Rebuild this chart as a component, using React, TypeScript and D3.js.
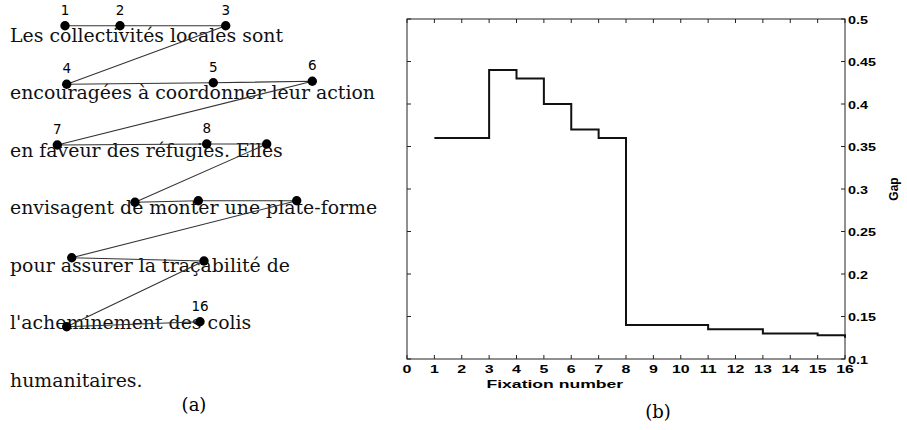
import React, { useRef, useEffect } from 'react';
import * as d3 from 'd3';

// panel (a): text lines and fixations (positions in image pixels)
const textLines = [
  'Les collectivités locales sont',
  'encouragées à coordonner leur action',
  'en faveur des réfugiés. Elles',
  'envisagent de monter une plate-forme',
  'pour assurer la traçabilité de',
  "l'acheminement des colis",
  'humanitaires.',
];
const fixX = [65, 120, 225.7, 66.7, 213.3, 312.3, 57.3, 206.7, 266.7, 135, 198.3, 296.7, 71.7, 204, 66.7, 200];
const fixY = [25.7, 25.7, 25.7, 84.3, 82.7, 81.3, 145, 144, 144, 202.3, 200.7, 200.7, 257.7, 261, 326.7, 321.7];
const labeledFix = [1, 2, 3, 4, 5, 6, 7, 8, 16];

// panel (b): gap per fixation number
const fixationNumber = [1, 2, 3, 4, 5, 6, 7, 8, 9, 10, 11, 12, 13, 14, 15, 16];
const gapValues = [0.36, 0.36, 0.44, 0.43, 0.40, 0.37, 0.36, 0.14, 0.14, 0.14, 0.135, 0.135, 0.13, 0.13, 0.128, 0.125];
const xTicks = d3.range(0, 17);
const yTicks = [0.1, 0.15, 0.2, 0.25, 0.3, 0.35, 0.4, 0.45, 0.5];

const W = 907;
const H = 430;

export default function App() {
  const ref = useRef<SVGSVGElement>(null);

  useEffect(() => {
    if (!ref.current) return;
    const svg = d3.select(ref.current);
    svg.selectAll('*').remove();

    /* ---------- (a) ---------- */
    const a = svg.append('g');
    const lineY = d3.scaleLinear().domain([0, textLines.length - 1]).range([41.5, 387]);
    a.selectAll('text.line').data(textLines).join('text')
      .attr('class', 'line')
      .attr('x', 10)
      .attr('y', (_, i) => lineY(i))
      .style('font-family', '"DejaVu Serif", serif')
      .style('font-size', '18.9px')
      .style('fill', '#111')
      .text(d => d);

    const px = d3.scaleLinear().domain([0, 1]).range([0, 1]);
    const pts = fixX.map((x, i) => [px(x), px(fixY[i])] as [number, number]);
    a.append('path').datum(pts)
      .attr('d', d3.line())
      .attr('fill', 'none')
      .attr('stroke', '#333')
      .attr('stroke-width', 1.1);
    a.selectAll('circle').data(pts).join('circle')
      .attr('cx', d => d[0]).attr('cy', d => d[1]).attr('r', 4.7)
      .attr('fill', '#000');
    a.selectAll('text.lab').data(labeledFix).join('text')
      .attr('class', 'lab')
      .attr('x', d => pts[d - 1][0])
      .attr('y', d => pts[d - 1][1] - 11)
      .attr('text-anchor', 'middle')
      .style('font-family', '"DejaVu Sans", sans-serif')
      .style('font-size', '13.5px')
      .style('fill', '#000')
      .text(d => d);
    a.append('text')
      .attr('x', 194).attr('y', 411)
      .attr('text-anchor', 'middle')
      .style('font-family', '"DejaVu Serif", serif')
      .style('font-size', '18px')
      .text('(a)');

    /* ---------- (b) ---------- */
    const left = 407, right = 845, top = 19, bottom = 359;
    const x = d3.scaleLinear().domain([0, 16]).range([left, right]);
    const y = d3.scaleLinear().domain([0.1, 0.5]).range([bottom, top]);
    const b = svg.append('g');
    const tl = 4;

    b.append('rect')
      .attr('x', left).attr('y', top)
      .attr('width', right - left).attr('height', bottom - top)
      .attr('fill', 'none').attr('stroke', '#222').attr('stroke-width', 1);

    const tickStyle = (s: d3.Selection<any, any, any, any>) =>
      s.attr('stroke', '#222').attr('stroke-width', 1);
    b.selectAll('line.xb').data(xTicks).join('line').attr('class', 'xb')
      .attr('x1', d => x(d)).attr('x2', d => x(d)).attr('y1', bottom).attr('y2', bottom - tl).call(tickStyle);
    b.selectAll('line.xt').data(xTicks).join('line').attr('class', 'xt')
      .attr('x1', d => x(d)).attr('x2', d => x(d)).attr('y1', top).attr('y2', top + tl).call(tickStyle);
    b.selectAll('line.yl').data(yTicks).join('line').attr('class', 'yl')
      .attr('x1', left).attr('x2', left + tl).attr('y1', d => y(d)).attr('y2', d => y(d)).call(tickStyle);
    b.selectAll('line.yr').data(yTicks).join('line').attr('class', 'yr')
      .attr('x1', right).attr('x2', right - tl).attr('y1', d => y(d)).attr('y2', d => y(d)).call(tickStyle);

    const sans = '"Liberation Sans", Arial, sans-serif';
    b.selectAll('text.xl').data(xTicks).join('text').attr('class', 'xl')
      .attr('transform', d => `translate(${x(d)},${bottom + 14}) scale(1.45,1)`)
      .attr('text-anchor', 'middle')
      .style('font-family', sans).style('font-weight', 'bold').style('font-size', '11px')
      .text(d => d);
    b.selectAll('text.yl').data(yTicks).join('text').attr('class', 'yl')
      .attr('transform', d => `translate(${right + 3},${y(d) + 4.5}) scale(1.25,1)`)
      .style('font-family', sans).style('font-weight', 'bold').style('font-size', '11.5px')
      .text(d => String(d));
    b.append('text')
      .attr('transform', `translate(${x(5.4)},${bottom + 29}) scale(1.6,1)`)
      .attr('text-anchor', 'middle')
      .style('font-family', sans).style('font-weight', 'bold').style('font-size', '11px')
      .text('Fixation number');
    b.append('text')
      .attr('transform', `translate(898,${y(0.3)}) rotate(-90)`)
      .attr('text-anchor', 'middle')
      .style('font-family', sans).style('font-weight', 'bold').style('font-size', '12px')
      .text('Gap');

    const step = d3.line<number>()
      .x((_, i) => x(fixationNumber[i]))
      .y(d => y(d))
      .curve(d3.curveStepAfter);
    b.append('path').datum(gapValues)
      .attr('d', step)
      .attr('fill', 'none')
      .attr('stroke', '#111')
      .attr('stroke-width', 2);

    b.append('text')
      .attr('x', 658).attr('y', 418)
      .attr('text-anchor', 'middle')
      .style('font-family', '"DejaVu Serif", serif')
      .style('font-size', '18px')
      .text('(b)');
  }, []);

  return (
    <div style={{ position: 'absolute', left: 0, top: 0 }}>
      <svg ref={ref} width={W} height={H} style={{ display: 'block', background: '#fff' }} />
    </div>
  );
}
